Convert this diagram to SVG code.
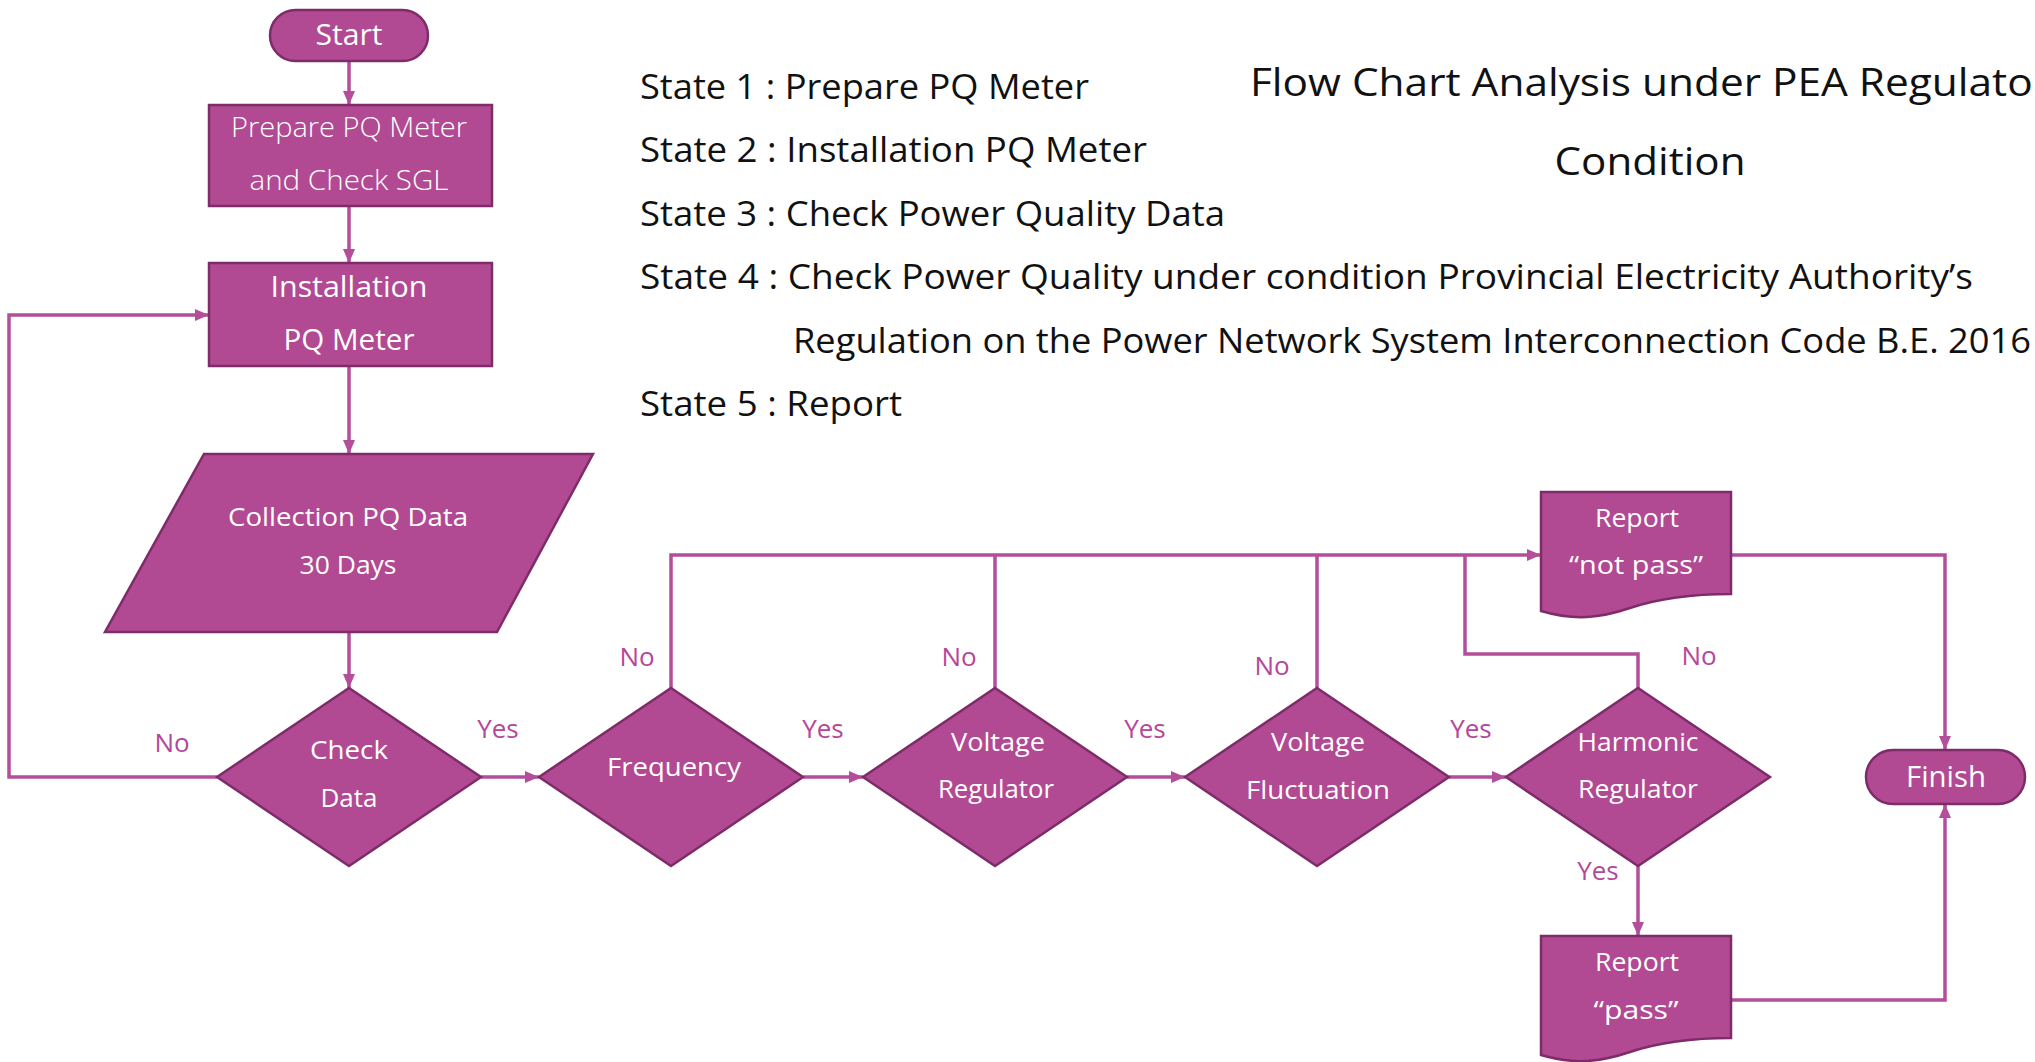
<svg xmlns="http://www.w3.org/2000/svg" width="2035" height="1062" viewBox="0 0 2035 1062">
  <defs>
    <marker id="arrow" viewBox="0 0 14 12" refX="14" refY="6" markerWidth="14" markerHeight="12" markerUnits="userSpaceOnUse" orient="auto">
      <path d="M0,0 L14,6 L0,12 Z" fill="#B44D9A"/>
    </marker>
    <style>
      .shape { fill: #B14A92; stroke: #7E2C69; stroke-width: 2.5; }
      .link { fill: none; stroke: #B44D9A; stroke-width: 3.5; }
      .arrow { marker-end: url(#arrow); }
      .node-text { font-family: "Open Sans", "Noto Sans", sans-serif; fill: #FFFFFF; text-anchor: middle; }
      .light { font-weight: 300; }
      .label { font-family: "Open Sans", "Noto Sans", sans-serif; fill: #B5479A; font-size: 26px; text-anchor: middle; }
      .heading { font-family: "Open Sans", "Noto Sans", sans-serif; fill: #111111; }
    </style>
  </defs>

  <rect width="2035" height="1062" fill="#FFFFFF"/>

  <!-- Legend of states and title -->
  <g id="legend" class="heading" font-size="34">
    <text x="640" y="99" textLength="449" lengthAdjust="spacingAndGlyphs">State 1 : Prepare PQ Meter</text>
    <text x="640" y="162" textLength="507" lengthAdjust="spacingAndGlyphs">State 2 : Installation PQ Meter</text>
    <text x="640" y="226" textLength="585" lengthAdjust="spacingAndGlyphs">State 3 : Check Power Quality Data</text>
    <text x="640" y="289" textLength="1333" lengthAdjust="spacingAndGlyphs">State 4 : Check Power Quality under condition Provincial Electricity Authority’s</text>
    <text x="793" y="353" textLength="1238" lengthAdjust="spacingAndGlyphs">Regulation on the Power Network System Interconnection Code B.E. 2016</text>
    <text x="640" y="416" textLength="262" lengthAdjust="spacingAndGlyphs">State 5 : Report</text>
  </g>
  <g id="title" class="heading" font-size="39">
    <text x="1250" y="96" textLength="800" lengthAdjust="spacingAndGlyphs">Flow Chart Analysis under PEA Regulator</text>
    <text x="1650" y="175" text-anchor="middle" textLength="191" lengthAdjust="spacingAndGlyphs">Condition</text>
  </g>

  <!-- Connectors -->
  <g id="connectors">
    <path class="link arrow" d="M349,61 V105"/>
    <path class="link arrow" d="M349,206 V263"/>
    <path class="link arrow" d="M349,366 V454"/>
    <path class="link arrow" d="M349,632 V688"/>
    <path class="link arrow" d="M217,777 H9 V315 H209"/>
    <path class="link arrow" d="M481,777 H539"/>
    <path class="link arrow" d="M803,777 H863"/>
    <path class="link arrow" d="M1127,777 H1185"/>
    <path class="link arrow" d="M1449,777 H1506"/>
    <path class="link arrow" d="M671,688 V555 H1541"/>
    <path class="link" d="M995,688 V555"/>
    <path class="link" d="M1317,688 V555"/>
    <path class="link" d="M1638,688 V654 H1465 V555"/>
    <path class="link arrow" d="M1638,866 V936"/>
    <path class="link arrow" d="M1731,555 H1945 V750"/>
    <path class="link arrow" d="M1731,1000 H1945 V804"/>
  </g>

  <!-- Connector labels -->
  <g id="labels" class="label">
    <text x="172" y="752">No</text>
    <text x="498" y="738">Yes</text>
    <text x="637" y="666">No</text>
    <text x="823" y="738">Yes</text>
    <text x="959" y="666">No</text>
    <text x="1145" y="738">Yes</text>
    <text x="1272" y="675">No</text>
    <text x="1471" y="738">Yes</text>
    <text x="1699" y="665">No</text>
    <text x="1598" y="880">Yes</text>
  </g>

  <!-- Nodes -->
  <g id="start">
    <rect class="shape" x="270" y="10" width="158" height="51" rx="25.5"/>
    <text class="node-text" x="349" y="45" font-size="29" textLength="67" lengthAdjust="spacingAndGlyphs">Start</text>
  </g>

  <g id="prepare">
    <rect class="shape" x="209" y="105" width="283" height="101"/>
    <text class="node-text light" x="349" y="137" font-size="28" textLength="236" lengthAdjust="spacingAndGlyphs">Prepare PQ Meter</text>
    <text class="node-text light" x="349" y="190" font-size="28" textLength="199" lengthAdjust="spacingAndGlyphs">and Check SGL</text>
  </g>

  <g id="installation">
    <rect class="shape" x="209" y="263" width="283" height="103"/>
    <text class="node-text" x="349" y="297" font-size="29" textLength="157" lengthAdjust="spacingAndGlyphs">Installation</text>
    <text class="node-text" x="349" y="350" font-size="29" textLength="131" lengthAdjust="spacingAndGlyphs">PQ Meter</text>
  </g>

  <g id="collection">
    <path class="shape" d="M204,454 H593 L497,632 H105 Z"/>
    <text class="node-text" x="348" y="526" font-size="25" textLength="240" lengthAdjust="spacingAndGlyphs">Collection PQ Data</text>
    <text class="node-text" x="348" y="574" font-size="25" textLength="97" lengthAdjust="spacingAndGlyphs">30 Days</text>
  </g>

  <g id="check-data">
    <path class="shape" d="M349,688 L481,777 L349,866 L217,777 Z"/>
    <text class="node-text" x="349" y="759" font-size="26" textLength="78" lengthAdjust="spacingAndGlyphs">Check</text>
    <text class="node-text" x="349" y="807" font-size="26" textLength="57" lengthAdjust="spacingAndGlyphs">Data</text>
  </g>

  <g id="frequency">
    <path class="shape" d="M671,688 L803,777 L671,866 L539,777 Z"/>
    <text class="node-text" x="674" y="776" font-size="26" textLength="134" lengthAdjust="spacingAndGlyphs">Frequency</text>
  </g>

  <g id="voltage-regulator">
    <path class="shape" d="M995,688 L1127,777 L995,866 L863,777 Z"/>
    <text class="node-text" x="998" y="751" font-size="26" textLength="94" lengthAdjust="spacingAndGlyphs">Voltage</text>
    <text class="node-text" x="996" y="798" font-size="26" textLength="116" lengthAdjust="spacingAndGlyphs">Regulator</text>
  </g>

  <g id="voltage-fluctuation">
    <path class="shape" d="M1317,688 L1449,777 L1317,866 L1185,777 Z"/>
    <text class="node-text" x="1318" y="751" font-size="26" textLength="94" lengthAdjust="spacingAndGlyphs">Voltage</text>
    <text class="node-text" x="1318" y="799" font-size="26" textLength="144" lengthAdjust="spacingAndGlyphs">Fluctuation</text>
  </g>

  <g id="harmonic-regulator">
    <path class="shape" d="M1638,688 L1770,777 L1638,866 L1506,777 Z"/>
    <text class="node-text" x="1638" y="751" font-size="26" textLength="121" lengthAdjust="spacingAndGlyphs">Harmonic</text>
    <text class="node-text" x="1638" y="798" font-size="26" textLength="120" lengthAdjust="spacingAndGlyphs">Regulator</text>
  </g>

  <g id="report-not-pass">
    <path class="shape" d="M1541,492 H1731 V594 C1690,594 1660,598 1630,608 C1600,618 1575,621 1541,611 Z"/>
    <text class="node-text" x="1637" y="527" font-size="26" textLength="84" lengthAdjust="spacingAndGlyphs">Report</text>
    <text class="node-text" x="1636" y="574" font-size="26" textLength="134" lengthAdjust="spacingAndGlyphs">“not pass”</text>
  </g>

  <g id="report-pass">
    <path class="shape" d="M1541,936 H1731 V1038 C1690,1038 1660,1042 1630,1052 C1600,1062 1575,1065 1541,1055 Z"/>
    <text class="node-text" x="1637" y="971" font-size="26" textLength="84" lengthAdjust="spacingAndGlyphs">Report</text>
    <text class="node-text" x="1636" y="1019" font-size="26" textLength="85" lengthAdjust="spacingAndGlyphs">“pass”</text>
  </g>

  <g id="finish">
    <rect class="shape" x="1866" y="750" width="159" height="54" rx="27"/>
    <text class="node-text" x="1946" y="787" font-size="29" textLength="80" lengthAdjust="spacingAndGlyphs">Finish</text>
  </g>
</svg>
